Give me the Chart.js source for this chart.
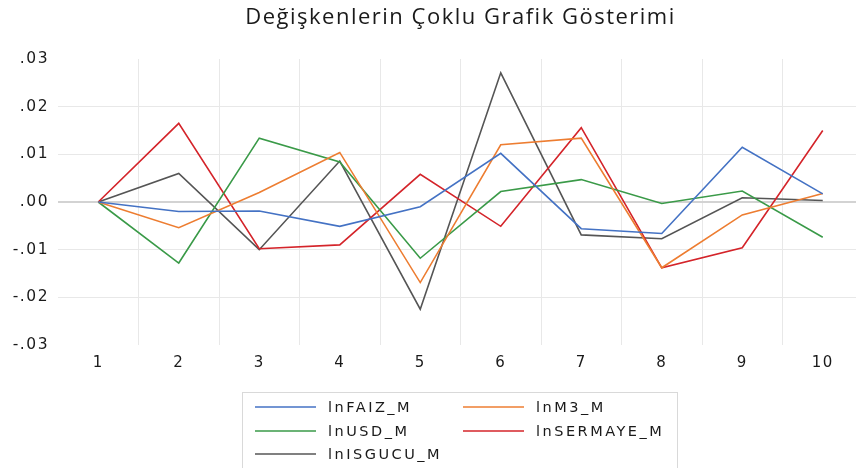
<!DOCTYPE html>
<html lang="tr">
<head>
<meta charset="UTF-8">
<title>Değişkenlerin Çoklu Grafik Gösterimi</title>
<script src="https://cdn.jsdelivr.net/npm/chart.js"></script>
<style>
    html, body { margin: 0; padding: 0; background: #fff; overflow: hidden; }
    .wrap { position: relative; width: 856px; height: 468px; overflow: hidden; }
    .chart-box { position: absolute; left: 0; top: 0; width: 863px; height: 468px; }
    .legend {
        position: absolute; left: 242px; top: 392px; width: 436px; height: 90px;
        border: 1px solid #d9d9d9; box-sizing: border-box;
        font-family: "DejaVu Sans", Verdana, sans-serif; font-size: 14.5px;
        letter-spacing: 2.5px; color: #1a1a1a;
    }
    .legend .item { position: absolute; display: flex; align-items: center; height: 20px; }
    .legend .swatch { width: 61px; height: 2px; margin-right: 12px; }
</style>
</head>
<body>
<div class="wrap">
    <div class="chart-box"><canvas id="chart"></canvas></div>
    <div class="legend" id="legend"></div>
</div>
<script>
    // data
    const periods = ['1', '2', '3', '4', '5', '6', '7', '8', '9', '10'];
    const lnFAIZ_M    = [0, -0.0020, -0.0019, -0.0051, -0.0010, 0.0102, -0.0056, -0.0066, 0.0115, 0.0017];
    const lnM3_M      = [0, -0.0054, 0.0020, 0.0104, -0.0169, 0.0120, 0.0134, -0.0138, -0.0027, 0.0018];
    const lnUSD_M     = [0, -0.0128, 0.0134, 0.0084, -0.0118, 0.0022, 0.0047, -0.0003, 0.0023, -0.0074];
    const lnSERMAYE_M = [0, 0.0165, -0.0098, -0.0090, 0.0058, -0.0051, 0.0156, -0.0138, -0.0096, 0.0150];
    const lnISGUCU_M  = [0, 0.0060, -0.0100, 0.0086, -0.0225, 0.0271, -0.0069, -0.0077, 0.0009, 0.0003];
    const yTicks = [0.03, 0.02, 0.01, 0, -0.01, -0.02, -0.03];

    const seriesNames = ['lnFAIZ_M', 'lnM3_M', 'lnUSD_M', 'lnSERMAYE_M', 'lnISGUCU_M'];
    const seriesData = [lnFAIZ_M, lnM3_M, lnUSD_M, lnSERMAYE_M, lnISGUCU_M];
    const colors = ['#4472C4', '#ED7D31', '#3A9A48', '#D4242A', '#555555'];

    const fmt = v => {
        const s = Math.abs(v).toFixed(2).replace(/^0/, '');
        return v < -1e-9 ? '-' + s : s;
    };

    // the reference text is a bit wider than the fonts we have
    const spacing = {
        id: 'spacing',
        beforeUpdate(c) { c.ctx.letterSpacing = '1.5px'; },
        beforeDraw(c) { c.ctx.letterSpacing = '1.5px'; }
    };

    const chart = new Chart(document.getElementById('chart'), {
        type: 'line',
        data: {
            labels: periods,
            datasets: seriesNames.map((name, i) => ({
                label: name,
                data: seriesData[i],
                borderColor: colors[i],
                backgroundColor: colors[i],
                borderWidth: 1.6,
                pointRadius: 0,
                tension: 0,
                fill: false
            }))
        },
        options: {
            responsive: true,
            maintainAspectRatio: false,
            animation: false,
            layout: { padding: { left: 0, right: 0, top: 0, bottom: 93 } },
            plugins: {
                legend: { display: false },
                tooltip: { enabled: false },
                title: {
                    display: true,
                    fullSize: false,
                    text: 'Değişkenlerin Çoklu Grafik Gösterimi',
                    color: '#1a1a1a',
                    font: { family: '"Open Sans", sans-serif', size: 22, weight: 'normal' },
                    padding: { top: 5, bottom: 27.6 }
                }
            },
            scales: {
                x: {
                    offset: true,
                    grid: {
                        offset: true,
                        color: ctx => ctx.index === 0 ? 'rgba(0,0,0,0)' : '#e8e8e8',
                        lineWidth: 1,
                        drawTicks: false
                    },
                    border: { display: false },
                    ticks: {
                        color: '#1a1a1a',
                        padding: 9,
                        maxRotation: 0,
                        font: { family: '"DejaVu Sans", sans-serif', size: 15 }
                    },
                    afterFit: s => { s.height = 30; }
                },
                y: {
                    min: -0.03,
                    max: 0.03,
                    afterBuildTicks: s => { s.ticks = yTicks.map(v => ({ value: v })); },
                    grid: {
                        color: ctx => {
                            const v = ctx.tick ? ctx.tick.value : null;
                            if (v === null || Math.abs(Math.abs(v) - 0.03) < 1e-9) return 'rgba(0,0,0,0)';
                            return Math.abs(v) < 1e-9 ? '#d3d3d3' : '#e8e8e8';
                        },
                        lineWidth: ctx => (ctx.tick && Math.abs(ctx.tick.value) < 1e-9) ? 2 : 1,
                        drawTicks: false
                    },
                    border: { display: false },
                    ticks: {
                        color: '#1a1a1a',
                        padding: 9,
                        font: { family: '"DejaVu Sans", sans-serif', size: 15.5 },
                        callback: v => fmt(v)
                    },
                    afterFit: s => { s.width = 58; }
                }
            }
        },
        plugins: [spacing]
    });

    // legend in two columns, built from the chart's datasets
    const legend = document.getElementById('legend');
    const slots = [[12, 4], [220, 4], [12, 28], [220, 28], [12, 51]];
    chart.data.datasets.forEach((ds, i) => {
        const item = document.createElement('div');
        item.className = 'item';
        item.style.left = slots[i][0] + 'px';
        item.style.top = slots[i][1] + 'px';
        const sw = document.createElement('span');
        sw.className = 'swatch';
        sw.style.background = ds.borderColor;
        sw.style.opacity = 0.75;
        const tx = document.createElement('span');
        tx.textContent = ds.label;
        item.appendChild(sw);
        item.appendChild(tx);
        legend.appendChild(item);
    });
</script>
</body>
</html>
